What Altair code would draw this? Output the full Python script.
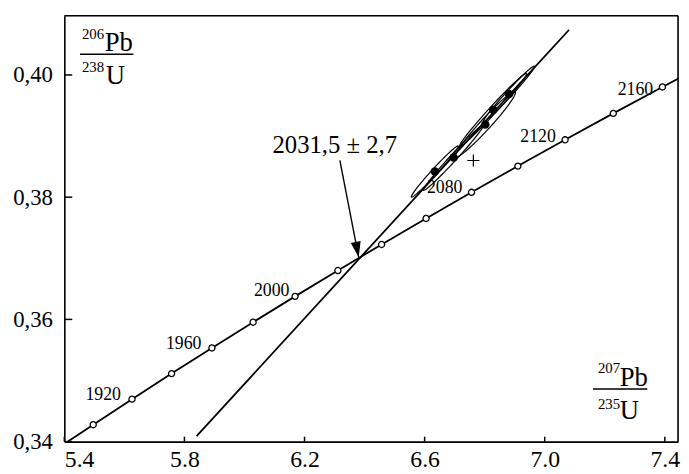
import math
import numpy as np
import pandas as pd
import altair as alt

# ---------------- data ----------------
# Concordia points (age, Ma) and ratios
conc_age = [1880, 1900, 1920, 1940, 1960, 1980, 2000, 2020, 2040, 2060, 2080, 2100, 2120, 2140, 2160, 2180]
conc_x = [5.3695, 5.4962, 5.6254, 5.7572, 5.8916, 6.0287, 6.1685, 6.3111, 6.4566,
          6.6049, 6.7562, 6.9105, 7.0678, 7.2283, 7.3920, 7.5589]
conc_y = [0.33863, 0.34277, 0.34695, 0.35113, 0.35533, 0.35954, 0.36377, 0.36800, 0.37226,
          0.37652, 0.38080, 0.38509, 0.38939, 0.39371, 0.39804, 0.40238]
marker_ages = [1900, 1920, 1940, 1960, 1980, 2000, 2020, 2040, 2060, 2080, 2100, 2120, 2140, 2160]

# Age labels on the concordia
age_labels = ["1920", "1960", "2000", "2080", "2120", "2160"]
age_lab_x = [5.5294, 5.7977, 6.0907, 6.6668, 6.978, 7.3021]
age_lab_y = [0.34673, 0.35522, 0.36390, 0.38073, 0.38899, 0.39676]

# Discordia line
disc_x = [5.8405, 7.0812]
disc_y = [0.3409, 0.4074]

# Analyses: ellipse centres, semi-major (in 207Pb/235U units) and axis ratio
dot_x = [6.634, 6.6965, 6.8019, 6.8282, 6.8809]
dot_y = [0.3842, 0.3865, 0.3919, 0.3943, 0.3969]
ell_half_dx = [0.078, 0.100, 0.100, 0.111, 0.085]
ell_ratio = [0.085, 0.075, 0.12, 0.075, 0.08]

# single "+" analysis
plus_x = [6.7623]
plus_y = [0.3860]

# Intercept annotation
annot_text = ["2031,5 \u00b1 2,7"]
annot_x = [6.3008]
annot_y = [0.38716]
arrow_x = [6.3177, 6.3804]
arrow_y = [0.38603, 0.37016]

# Axis ratio labels
ratio_text = ["206", "Pb", "238", "U", "207", "Pb", "235", "U"]
ratio_x = [5.4586, 5.5343, 5.4586, 5.5376, 7.1771, 7.2495, 7.1771, 7.2495]
ratio_y = [0.4059, 0.4040, 0.40043, 0.39849, 0.35122, 0.34911, 0.34539, 0.34377]
ratio_big = [False, True, False, True, False, True, False, True]
frac_x1 = [5.452, 7.1606]
frac_x2 = [5.630, 7.3416]
frac_y = [0.4034, 0.34863]

x_ticks = [5.4, 5.8, 6.2, 6.6, 7.0, 7.4]
y_ticks = [0.34, 0.36, 0.38, 0.40]
x_domain = [5.4, 7.444]
y_domain = [0.34, 0.4097]

# ---------------- layout ----------------
W, H = 621, 431
FONT = "Liberation Serif"

xs = alt.Scale(domain=x_domain, nice=False, zero=False)
ys = alt.Scale(domain=y_domain, nice=False, zero=False)
x_axis = alt.Axis(values=x_ticks, format=".1f", title=None, grid=False,
                  domain=True, domainColor="black", domainWidth=1.6,
                  ticks=False, labelPadding=6,
                  labelFont=FONT, labelFontSize=24, labelColor="black")
y_axis = alt.Axis(values=y_ticks, title=None, grid=False,
                  labelExpr="replace(format(datum.value, '.2f'), '.', ',')",
                  domain=True, domainColor="black", domainWidth=1.6,
                  ticks=False, labelPadding=12,
                  labelFont=FONT, labelFontSize=23, labelColor="black")


def X(field):
    return alt.X(field, type="quantitative", scale=xs, axis=x_axis)


def Y(field):
    return alt.Y(field, type="quantitative", scale=ys, axis=y_axis)


# concordia
conc_df = pd.DataFrame({"x": conc_x, "y": conc_y, "age": conc_age})
conc_line = alt.Chart(conc_df).mark_line(color="black", strokeWidth=1.8, clip=True).encode(
    x=X("x"), y=Y("y"), order="age:Q")
mk_df = conc_df[conc_df["age"].isin(marker_ages)]
conc_pts = alt.Chart(mk_df).mark_point(shape="circle", filled=True, fill="white", stroke="black",
                                         strokeWidth=1.3, size=38, opacity=1).encode(
    x=X("x"), y=Y("y"))

age_df = pd.DataFrame({"x": age_lab_x, "y": age_lab_y, "t": age_labels})
age_txt = alt.Chart(age_df).mark_text(font=FONT, fontSize=18, align="center",
                                      baseline="alphabetic", color="black").encode(
    x=X("x"), y=Y("y"), text="t:N")

# discordia
disc_df = pd.DataFrame({"x": disc_x, "y": disc_y})
disc_line = alt.Chart(disc_df).mark_line(color="black", strokeWidth=1.8).encode(x=X("x"), y=Y("y"))

# ellipses
sx = W / (x_domain[1] - x_domain[0])
sy = H / (y_domain[1] - y_domain[0])
du = (disc_x[1] - disc_x[0]) * sx
dv = (disc_y[1] - disc_y[0]) * sy
nrm = math.hypot(du, dv)
ux, uy = du / nrm, dv / nrm
px_, py_ = -uy, ux
rows = []
t = np.linspace(0, 2 * np.pi, 97)
for i, (cx, cy, hdx, r) in enumerate(zip(dot_x, dot_y, ell_half_dx, ell_ratio)):
    a = hdx * sx / ux
    b = a * r
    for k, tt in enumerate(t):
        u = a * math.cos(tt) * ux + b * math.sin(tt) * px_
        v = a * math.cos(tt) * uy + b * math.sin(tt) * py_
        rows.append({"id": i, "k": k, "x": cx + u / sx, "y": cy + v / sy})
ell_df = pd.DataFrame(rows)
ell = alt.Chart(ell_df).mark_line(color="black", strokeWidth=1.2).encode(
    x=X("x"), y=Y("y"), detail="id:N", order="k:Q")

dot_df = pd.DataFrame({"x": dot_x, "y": dot_y})
dots = alt.Chart(dot_df).mark_point(shape="circle", filled=True, color="black", size=75,
                                    opacity=1).encode(x=X("x"), y=Y("y"))

plus_df = pd.DataFrame({"x": plus_x, "y": plus_y})
plus = alt.Chart(plus_df).mark_point(shape="M-1,0L1,0M0,-1L0,1", filled=False, color="black",
                                     strokeWidth=1.2, size=150, opacity=1).encode(
    x=X("x"), y=Y("y"))

# annotation + arrow
ann_df = pd.DataFrame({"x": annot_x, "y": annot_y, "t": annot_text})
ann = alt.Chart(ann_df).mark_text(font=FONT, fontSize=25, align="center", baseline="alphabetic",
                                  color="black").encode(x=X("x"), y=Y("y"), text="t:N")
arr_df = pd.DataFrame({"x": arrow_x, "y": arrow_y})
arr_line = alt.Chart(arr_df).mark_line(color="black", strokeWidth=1.4).encode(x=X("x"), y=Y("y"))
ang = math.degrees(math.atan2((arrow_x[1] - arrow_x[0]) * sx, (arrow_y[0] - arrow_y[1]) * sy))
head_df = arr_df.iloc[[1]]
arr_head = alt.Chart(head_df).mark_point(shape="M0,0L-0.32,-1L0.32,-1Z", filled=True, color="black",
                                         size=1000, opacity=1, angle=(360 - ang) % 360).encode(
    x=X("x"), y=Y("y"))

# ratio labels
rat_df = pd.DataFrame({"x": ratio_x, "y": ratio_y, "t": ratio_text,
                       "fs": [27 if b else 15 for b in ratio_big]})
rat = alt.Chart(rat_df).mark_text(font=FONT, align="left", baseline="alphabetic",
                                  color="black").encode(
    x=X("x"), y=Y("y"), text="t:N", size=alt.Size("fs:Q", scale=None, legend=None))
frac_df = pd.DataFrame({"x": frac_x1, "x2": frac_x2, "y": frac_y})
frac = alt.Chart(frac_df).mark_rule(color="black", strokeWidth=1.5).encode(
    x=X("x"), x2="x2:Q", y=Y("y"))

# inward ticks
xt_df = pd.DataFrame({"v": x_ticks})
xt = alt.Chart(xt_df).mark_rule(color="black", strokeWidth=1.5).encode(
    x=X("v"), y=alt.value(H), y2=alt.value(H - 5))
yt_df = pd.DataFrame({"v": y_ticks})
yt = alt.Chart(yt_df).mark_rule(color="black", strokeWidth=1.5).encode(
    y=Y("v"), x=alt.value(0), x2=alt.value(8))

# frame (top and right edges)
top_edge = alt.Chart(pd.DataFrame({"e": ["top"]})).mark_rule(color="black", strokeWidth=1.6).encode(
    x=alt.value(0), x2=alt.value(W), y=alt.value(0))
right_edge = alt.Chart(pd.DataFrame({"e": ["right"]})).mark_rule(color="black", strokeWidth=1.6).encode(
    x=alt.value(W), y=alt.value(0), y2=alt.value(H))

chart = alt.layer(conc_line, disc_line, ell, conc_pts, dots, plus, age_txt, ann, arr_line, arr_head,
                  rat, frac, xt, yt, top_edge, right_edge).properties(
    width=W, height=H,
    autosize=alt.AutoSizeParams(type="none"),
    padding={"left": 57, "top": 5, "right": 3, "bottom": 32},
).configure_view(stroke=None).configure(background="white")

chart.save("out.html", embed_options={"renderer": "svg", "actions": False})
